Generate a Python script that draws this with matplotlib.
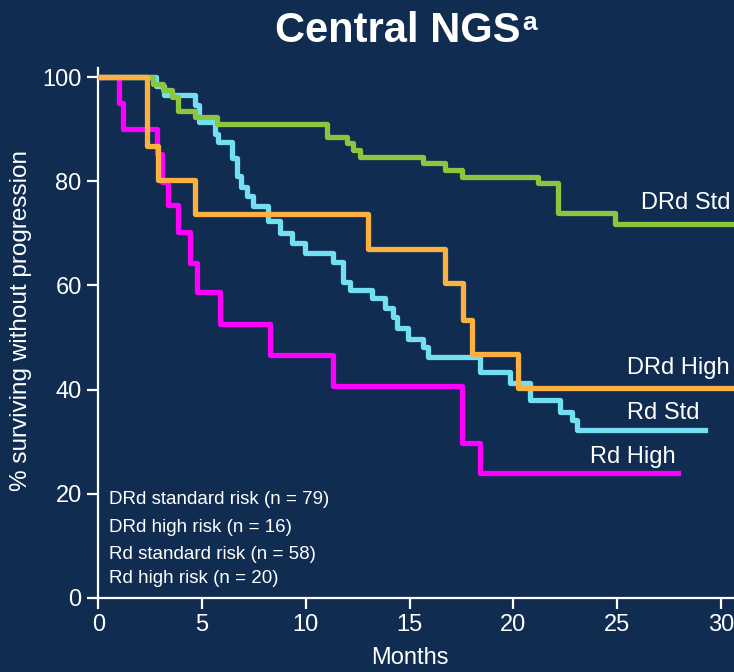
import matplotlib
matplotlib.use("Agg")
import matplotlib.pyplot as plt

plt.rcParams["font.family"] = ["Liberation Sans", "DejaVu Sans"]

# Kaplan-Meier step data (months, % surviving without progression)
drd_std_t = [0, 2.65, 3.13, 3.54, 3.86, 4.66, 5.71, 11.01, 11.97, 12.27, 12.61,
             15.64, 16.71, 17.51, 21.2, 22.17, 24.9, 31.0]
drd_std_s = [100, 98.7, 97.5, 96.2, 93.6, 92.4, 91.1, 88.6, 87.3, 86.0, 84.7,
             83.5, 82.1, 80.9, 79.6, 73.9, 71.9, 71.9]

drd_high_t = [0, 2.37, 2.89, 4.68, 13.0, 16.71, 17.58, 18.0, 20.23, 31.0]
drd_high_s = [100, 86.8, 80.2, 73.7, 67.1, 60.4, 53.4, 46.8, 40.2, 40.2]

rd_std_t = [0, 2.8, 3.15, 4.66, 4.83, 5.62, 5.78, 6.43, 6.67, 6.9, 7.15, 7.47,
            8.19, 8.76, 9.32, 9.96, 11.33, 11.81, 12.13, 13.17, 13.81, 14.22,
            14.38, 14.93, 15.66, 15.89, 18.4, 19.84, 20.8, 22.27, 22.82, 23.08,
            29.24]
rd_std_s = [100, 98.3, 96.6, 94.6, 91.5, 89.2, 87.6, 84.4, 81.0, 79.0, 77.1,
            75.2, 72.3, 70.0, 68.1, 66.2, 64.6, 60.7, 59.1, 57.5, 55.6, 54.0,
            51.8, 49.8, 48.2, 46.3, 43.4, 41.2, 38.0, 35.7, 34.1, 32.2, 32.2]

rd_high_t = [0, 1.0, 1.2, 2.81, 3.06, 3.36, 3.84, 4.44, 4.74, 5.87, 8.27,
             11.31, 17.51, 18.4, 27.94]
rd_high_s = [100, 95.0, 90.0, 85.3, 79.8, 75.4, 70.2, 64.4, 58.8, 52.6, 46.6,
             40.7, 29.7, 23.9, 23.9]

legend_lines = ["DRd standard risk (n = 79)", "DRd high risk (n = 16)",
                "Rd standard risk (n = 58)", "Rd high risk (n = 20)"]

x_ticks = [0, 5, 10, 15, 20, 25, 30]
y_ticks = [0, 20, 40, 60, 80, 100]

bg = "#102c51"
c_green = "#8cc63f"
c_orange = "#fbb040"
c_cyan = "#74dff0"
c_magenta = "#ff00ff"

fig = plt.figure(figsize=(7.34, 6.72), dpi=100, facecolor=bg)
ax = fig.add_axes([98.3 / 734, (672 - 597.7) / 672, (734 - 98.3) / 734,
                   (597.7 - 68) / 672])
ax.set_facecolor(bg)

lw = 3.8
ax.step(rd_high_t, rd_high_s, where="post", color=c_magenta, lw=lw, zorder=2)
ax.step(rd_std_t, rd_std_s, where="post", color=c_cyan, lw=lw, zorder=3)
ax.step(drd_std_t, drd_std_s, where="post", color=c_green, lw=lw, zorder=4)
ax.step(drd_high_t, drd_high_s, where="post", color=c_orange, lw=lw, zorder=5)

ax.set_xlim(0, (734 - 98.3) / 20.75)
ax.set_ylim(0, (597.7 - 68) / 5.204)
ax.set_xticks(x_ticks)
ax.set_yticks(y_ticks)

for side in ("top", "right"):
    ax.spines[side].set_visible(False)
for side in ("left", "bottom"):
    ax.spines[side].set_color("white")
    ax.spines[side].set_linewidth(1.6)

ax.tick_params(axis="both", colors="white", labelcolor="white", length=8,
               width=1.6, labelsize=17, pad=4)

ax.set_xlabel("Months", color="white", fontsize=17)
ax.xaxis.set_label_coords(0.49, -0.093)
ax.set_ylabel("% surviving without progression", color="white", fontsize=17.5)
ax.yaxis.set_label_coords(-0.104, 0.523)

# curve end labels
lab_kw = dict(color="white", fontsize=17, ha="left", va="baseline")
ax.text(26.15, 74.7, "DRd Std", **lab_kw)
ax.text(25.5, 43.0, "DRd High", **lab_kw)
ax.text(25.5, 34.4, "Rd Std", **lab_kw)
ax.text(23.7, 25.9, "Rd High", **lab_kw)

# group sizes
for y, txt in zip([18.0, 12.7, 7.4, 2.8], legend_lines):
    ax.text(0.53, y, txt, color="white", fontsize=13.5, ha="left",
            va="baseline")

fig.text(275 / 734, 1 - 42 / 672, "Central NGS", color="white", fontsize=30,
         fontweight="bold", ha="left", va="baseline")
fig.text(522 / 734, 1 - 30 / 672, "a", color="white", fontsize=19,
         fontweight="bold", ha="left", va="baseline")

fig.savefig("out.png", dpi=100, facecolor=bg)
